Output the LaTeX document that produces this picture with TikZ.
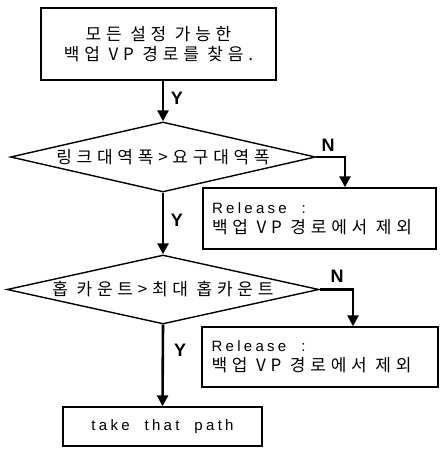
\documentclass[tikz,border=0pt]{standalone}
\usepackage{fontspec}
\setmainfont{Liberation Sans}
\newfontfamily\kr[LetterSpace=28]{Noto Sans CJK KR}
\newfontfamily\lat[LetterSpace=22,WordSpace=2]{Liberation Sans}
\newcommand\krf{\fontsize{17}{20}\selectfont\kr}
\newcommand\latf{\fontsize{15}{20}\selectfont\lat}
\usetikzlibrary{shapes.geometric,arrows.meta}
\begin{document}
\begin{tikzpicture}[x=1pt,y=-1pt,
  box/.style={draw,line width=1.4pt,inner sep=0pt},
  dia/.style={draw,diamond,line width=1.4pt,inner sep=0pt,aspect=4.4},
  relbox/.style={box,align=left,font=\fontsize{15}{20}\selectfont},
  conn/.style={line width=2.6pt,-{Triangle[width=11pt,length=11pt]}},
  lbl/.style={font=\fontsize{18}{18}\selectfont\bfseries,inner sep=0pt},
]
\useasboundingbox (0,0) rectangle (439,449);

\node[box,minimum width=235pt,minimum height=72pt,align=center,font=\krf] (start) at (158.5,44) {모든 설정 가능한\\백업 VP 경로를 찾음.};

\node[dia,minimum width=305pt,minimum height=70pt,font=\krf] (d1) at (163,157) {링크대역폭>요구대역폭};

\node[relbox,minimum width=233pt,minimum height=61pt,text width=215pt] (rel1) at (319.5,218.5) {\spaceskip=0pt \xspaceskip=0pt \mbox{\latf Release :}\\\mbox{\krf 백업 VP 경로에서 제외}};

\node[dia,minimum width=312pt,minimum height=69pt,font=\krf] (d2) at (163,289.5) {홉 카운트>최대 홉카운트};

\node[relbox,minimum width=236pt,minimum height=60pt,text width=217pt] (rel2) at (320,357) {\spaceskip=0pt \xspaceskip=0pt \mbox{\latf Release :}\\\mbox{\krf 백업 VP 경로에서 제외}};

\node[box,minimum width=199pt,minimum height=39pt,font=\latf] (end) at (162.5,426.5) {take that path};

\coordinate (t1) at (345,0);
\coordinate (t2) at (353,0);

\draw[conn] (start.south -| d1.north) -- (d1.north);
\draw[conn] (d1.south) -- (d2.north);
\draw[conn] (d2.south) -- (end.north);
\draw[conn] (d1.east) -| (t1 |- rel1.north);
\draw[conn] (d2.east) -| (t2 |- rel2.north);

\node[lbl] (y1) at (177,98) {Y};
\node[lbl] (y2) at (177,220) {Y};
\node[lbl] (y3) at (180,350) {Y};
\node[lbl] (n1) at (328,145) {N};
\node[lbl] (n2) at (337,276) {N};
\end{tikzpicture}
\end{document}
